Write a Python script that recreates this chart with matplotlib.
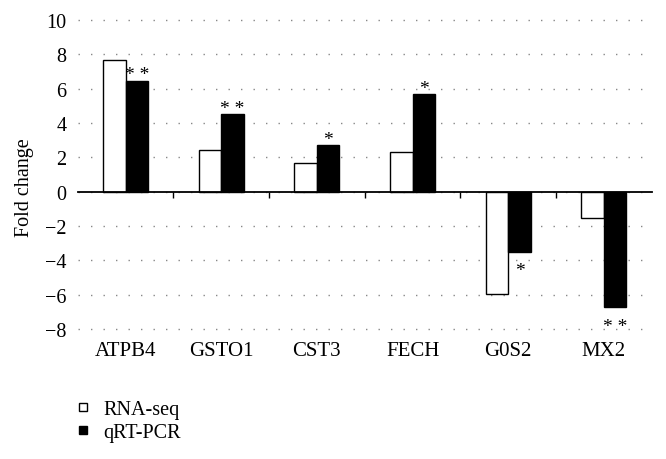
import numpy as np
import matplotlib
matplotlib.use("Agg")
from matplotlib import pyplot as plt
from matplotlib.lines import Line2D

plt.rcParams['font.family'] = ['Liberation Serif', 'DejaVu Serif']
plt.rcParams['axes.unicode_minus'] = True

genes = ['ATPB4', 'GSTO1', 'CST3', 'FECH', 'G0S2', 'MX2']
rna_seq = [7.65, 2.43, 1.66, 2.28, -5.95, -1.55]
qrt_pcr = [6.45, 4.5, 2.7, 5.68, -3.5, -6.7]
stars = ['* *', '* *', '*', '*', '*', '* *']
yticks = [-8, -6, -4, -2, 0, 2, 4, 6, 8, 10]

fig = plt.figure(figsize=(6.66, 4.6), dpi=100)
ax = fig.add_axes([0.1167, 0.2746, 0.8619, 0.6878])

x = np.arange(len(genes))
w = 0.235
ax.bar(x - w / 2, rna_seq, w, color='white', edgecolor='black', linewidth=1, zorder=3)
ax.bar(x + w / 2, qrt_pcr, w, color='black', edgecolor='black', linewidth=1, zorder=3)

# significance marks next to the qRT-PCR bars
for xi, v, s in zip(x, qrt_pcr, stars):
    if v > 0:
        off = 1
    else:
        off = -17
    ax.annotate(s, xy=(xi + w / 2, v), xytext=(0, off), textcoords='offset points',
                ha='center', va='baseline', fontsize=14)

ax.set_xlim(-0.5, len(genes) - 0.5)
ax.set_ylim(-8.2, 10.2)
ax.set_yticks(yticks)
ax.set_yticklabels([str(t).replace('-', '\u2212') for t in yticks])
ax.tick_params(axis='y', length=0, pad=8, labelsize=14.5)
ax.yaxis.grid(True, linestyle=(0, (1, 8)), color='#888888', linewidth=1)
ax.set_axisbelow(True)

for sp in ['left', 'right', 'top']:
    ax.spines[sp].set_visible(False)
ax.spines['bottom'].set_position(('data', 0))
ax.spines['bottom'].set_linewidth(1.3)
ax.spines['bottom'].set_zorder(4)
ax.set_xticks(x[:-1] + 0.5)
ax.set_xticklabels([])
ax.tick_params(axis='x', length=4, width=1, direction='out')

for xi, g in zip(x, genes):
    ax.text(xi, -0.055, g, transform=ax.get_xaxis_transform(), ha='center', va='center',
            fontsize=15)

fig.text(0.0375, 1 - 188 / 460, 'Fold change', rotation=90, ha='center', va='center',
         fontsize=14.5)

handles = [Line2D([], [], marker='s', ls='', mfc='white', mec='black', ms=6, mew=1),
           Line2D([], [], marker='s', ls='', mfc='black', mec='black', ms=6, mew=1)]
fig.legend(handles, ['RNA-seq', 'qRT-PCR'], loc='center left',
           bbox_to_anchor=(0.113, 0.0826), frameon=False, fontsize=14.5,
           handlelength=0.8, handletextpad=0.6, labelspacing=0.15,
           borderpad=0, borderaxespad=0)

fig.savefig('out.png', dpi=100)
